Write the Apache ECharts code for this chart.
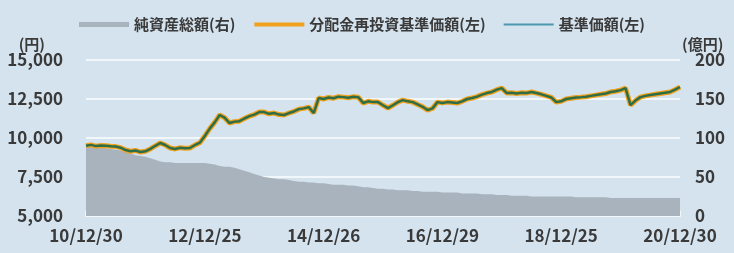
<!DOCTYPE html>
<html>
<head>
<meta charset="utf-8">
<script src="https://cdn.jsdelivr.net/npm/echarts@6/dist/echarts.min.js"></script>
<style>
  html, body { margin: 0; padding: 0; background: #d5e3ee; }
  #chart { width: 734px; height: 253px; }
</style>
</head>
<body>
<div id="chart"></div>
<script>
// 月次（2010/12 〜 2020/12）
const startYear = 2010, startMonth = 12
const categories = []
for (let i = 0; i <= 120; i++) {
  const m = (startMonth - 1 + i) % 12 + 1
  const y = startYear + Math.floor((startMonth - 1 + i) / 12)
  categories.push(y + '-' + String(m).padStart(2, '0'))
}

// 目盛ラベル（2年ごと）
const tickLabels = ['10/12/30', '12/12/25', '14/12/26', '16/12/29', '18/12/25', '20/12/30']

// 基準価額（円）
const navValues = [
  9500, 9560, 9480, 9520, 9500, 9470, 9450, 9380, 9230, 9150, 9200, 9100,
  9150, 9300, 9500, 9680, 9550, 9360, 9300, 9380, 9340, 9360, 9550, 9700,
  10130, 10600, 11000, 11474, 11300, 10960, 11050, 11080, 11250, 11400, 11500, 11660,
  11660, 11550, 11600, 11500, 11474, 11600, 11700, 11850, 11900, 11980, 11600, 12560,
  12500, 12600, 12550, 12650, 12620, 12580, 12640, 12620, 12240, 12350, 12300, 12300,
  12100, 11920, 12100, 12300, 12430, 12350, 12300, 12150, 12000, 11790, 11900, 12300,
  12250, 12300, 12280, 12240, 12350, 12500, 12560, 12650, 12780, 12880, 12950, 13100,
  13200, 12880, 12900, 12850, 12900, 12880, 12950, 12880, 12800, 12700, 12600, 12300,
  12350, 12500, 12550, 12600, 12620, 12650, 12700, 12750, 12800, 12850, 12950, 13000,
  13070, 13200, 12110, 12400, 12620, 12700, 12750, 12800, 12850, 12900, 12950, 13100, 13270
]

// 分配金再投資基準価額（円）
const reinvestValues = [
  9500, 9560, 9480, 9520, 9500, 9470, 9450, 9380, 9230, 9150, 9200, 9100,
  9150, 9300, 9500, 9680, 9550, 9360, 9300, 9380, 9340, 9360, 9550, 9700,
  10130, 10600, 11000, 11474, 11300, 10960, 11050, 11080, 11250, 11400, 11500, 11660,
  11660, 11550, 11600, 11500, 11474, 11600, 11700, 11850, 11900, 11980, 11600, 12560,
  12500, 12600, 12550, 12650, 12620, 12580, 12640, 12620, 12240, 12350, 12300, 12300,
  12100, 11920, 12100, 12300, 12430, 12350, 12300, 12150, 12000, 11790, 11900, 12300,
  12250, 12300, 12280, 12240, 12350, 12500, 12560, 12650, 12780, 12880, 12950, 13100,
  13200, 12880, 12900, 12850, 12900, 12880, 12950, 12880, 12800, 12700, 12600, 12300,
  12350, 12500, 12550, 12600, 12620, 12650, 12700, 12750, 12800, 12850, 12950, 13000,
  13070, 13200, 12110, 12400, 12620, 12700, 12750, 12800, 12850, 12900, 12950, 13100, 13270
]

// 純資産総額（億円）
const netAssets = [
  90, 89, 88, 88, 87, 86, 85, 84, 82, 80, 78, 77,
  76, 74, 72, 70, 69, 69, 68, 68, 68, 68, 68, 68,
  68, 67, 66, 64, 63, 63, 62, 60, 58, 56, 54, 52,
  50, 49, 48, 47, 47, 46, 45, 44, 44, 43, 43, 42,
  42, 41, 40, 40, 40, 39, 39, 38, 37, 37, 36, 35,
  35, 34, 34, 33, 33, 33, 32, 32, 31, 31, 31, 31,
  30, 30, 30, 30, 29, 29, 29, 29, 28, 28, 28, 27,
  27, 27, 26, 26, 26, 26, 25, 25, 25, 25, 25, 25,
  25, 25, 25, 24, 24, 24, 24, 24, 24, 24, 23, 23,
  23, 23, 23, 23, 23, 23, 23, 23, 23, 23, 23, 23, 23
]

const FONT = '"Noto Sans CJK JP", "Noto Sans", sans-serif'
const TEXT = '#3a3a3a'

const chart = echarts.init(document.getElementById('chart'))

const fmtComma = v => String(v).replace(/\B(?=(\d{3})+(?!\d))/g, ',')

const option = {
  animation: false,
  backgroundColor: '#d5e3ee',
  textStyle: {fontFamily: FONT},
  legend: {
    left: 74,
    top: 12,
    itemWidth: 50,
    itemHeight: 5,
    itemGap: 17,
    itemTextGap: 6,
    textStyle: {fontFamily: FONT, fontSize: 15, fontWeight: 'bold', color: TEXT},
    data: [
      {name: '純資産総額(右)', icon: 'rect'},
      {name: '分配金再投資基準価額(左)', itemStyle: {opacity: 0}, lineStyle: {width: 4, color: '#f0a21e'}},
      {name: '基準価額(左)', itemStyle: {opacity: 0}, lineStyle: {color: '#4a98ae', width: 2}}
    ]
  },
  grid: {left: 86, right: 54, top: 60, bottom: 37},
  xAxis: {
    type: 'category',
    data: categories,
    boundaryGap: false,
    axisLine: {lineStyle: {color: '#f2f7fb', width: 2}},
    axisTick: {
      inside: true, length: 5,
      interval: i => i % 24 === 0,
      lineStyle: {color: '#f2f7fb', width: 2}
    },
    axisLabel: {
      interval: i => i % 24 === 0,
      formatter: (v, i) => tickLabels[i / 24],
      color: TEXT, fontSize: 17, fontWeight: 'bold', fontFamily: FONT,
      margin: 11
    },
    splitLine: {show: false}
  },
  yAxis: [
    {
      type: 'value',
      min: 5000, max: 15000, interval: 2500,
      name: '(円)',
      nameLocation: 'end',
      nameGap: 8,
      nameTextStyle: {color: TEXT, fontSize: 15, fontWeight: 'bold', align: 'right', padding: [0, 41, 0, 0]},
      axisLine: {show: false},
      axisTick: {show: false},
      axisLabel: {formatter: fmtComma, color: TEXT, fontSize: 17, fontWeight: 'bold', margin: 23},
      splitLine: {lineStyle: {color: '#f2f7fb', width: 2}}
    },
    {
      type: 'value',
      min: 0, max: 200, interval: 50,
      name: '(億円)',
      nameLocation: 'end',
      nameGap: 8,
      nameTextStyle: {color: TEXT, fontSize: 15, fontWeight: 'bold', align: 'left', padding: [0, 0, 0, 2]},
      axisLine: {show: false},
      axisTick: {show: false},
      axisLabel: {color: TEXT, fontSize: 17, fontWeight: 'bold', margin: 15},
      splitLine: {show: false}
    }
  ],
  series: [
    {
      name: '純資産総額(右)',
      type: 'line',
      yAxisIndex: 1,
      data: netAssets,
      symbol: 'none',
      color: '#a8b3bd',
      lineStyle: {width: 0},
      areaStyle: {color: '#a8b3bd', opacity: 1}
    },
    {
      name: '分配金再投資基準価額(左)',
      type: 'line',
      data: reinvestValues,
      symbol: 'none',
      color: '#f0a21e',
      lineStyle: {width: 5, color: '#f0a21e'}
    },
    {
      name: '基準価額(左)',
      type: 'line',
      data: navValues,
      symbol: 'none',
      color: '#2f6d47',
      lineStyle: {width: 2.5, color: '#2f6d47'}
    }
  ]
}

chart.setOption(option)
</script>
</body>
</html>
